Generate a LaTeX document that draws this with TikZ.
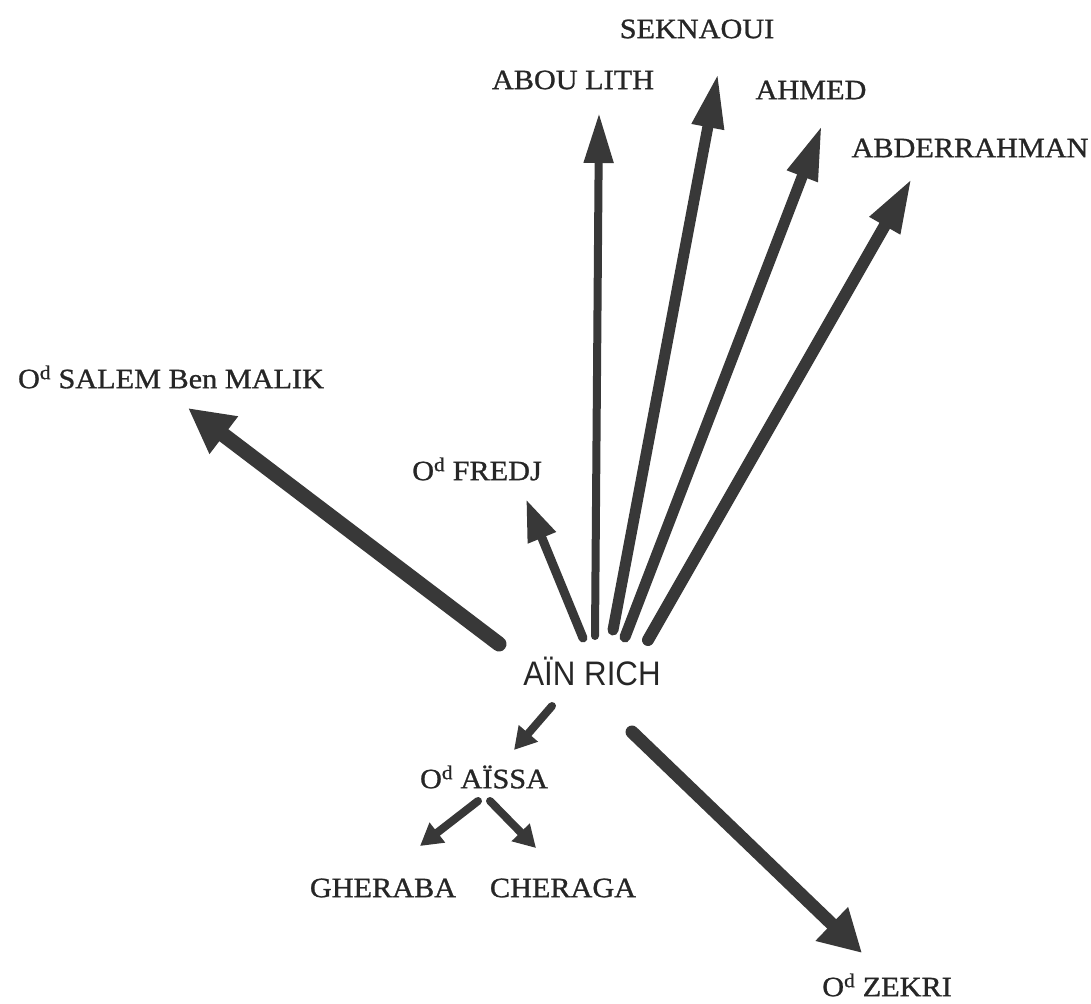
\documentclass[tikz,border=0pt]{standalone}
\usepackage{fontspec}
\setmainfont{Liberation Serif}[FakeStretch=1.08, FakeBold=1]
\newfontfamily\richfont{Liberation Sans}[FakeStretch=0.92]
\usetikzlibrary{arrows.meta}
\begin{document}
\begin{tikzpicture}[x=1pt,y=-1pt,
  lab/.style={inner sep=0pt, font=\fontsize{28}{32}\selectfont, text=black!85},
  arr/.style={draw=black!78, line width=10pt, line cap=round, -{Triangle[width=30pt,length=40pt]}},
  small/.style={draw=black!78, line width=8pt, line cap=round, -{Triangle[width=24pt,length=22pt]}}]
\useasboundingbox (0,0) rectangle (1091,1003);
% labels
\node[lab] (seknaoui) at (697,29) {SEKNAOUI};
\node[lab] (abou) at (573,80) {ABOU LITH};
\node[lab] (ahmed) at (811,90) {AHMED};
\node[lab] (abder) at (970,148) {ABDERRAHMAN};
\node[lab] (salem) at (171,377) {O\textsuperscript{d} SALEM Ben MALIK};
\node[lab] (fredj) at (477,469) {O\textsuperscript{d} FREDJ};
\node[inner sep=0pt, font=\richfont\fontsize{34}{38}\selectfont, text=black!85] (rich) at (592,671) {AÏN RICH};
\node[lab] (aissa) at (484,777) {O\textsuperscript{d} AÏSSA};
\node[lab] (gheraba) at (383,888) {GHERABA};
\node[lab] (cheraga) at (563,888) {CHERAGA};
\node[lab] (zekri) at (887,985) {O\textsuperscript{d} ZEKRI};
% arrow end points
\coordinate (tFredj) at (583,638);  \coordinate (hFredj) at (526,499);
\coordinate (tAbou) at (595,636);   \coordinate (hAbou) at (599,113);
\coordinate (tSek) at (613,630);    \coordinate (hSek) at (718,73);
\coordinate (tAhm) at (625,637);    \coordinate (hAhm) at (822,125);
\coordinate (tAbd) at (648,640);    \coordinate (hAbd) at (912,178);
\coordinate (tSal) at (499,644);    \coordinate (hSal) at (188,408);
\coordinate (tAis) at (552,706);    \coordinate (hAis) at (514,750);
\coordinate (tGhe) at (478,801);    \coordinate (hGhe) at (420,846);
\coordinate (tChe) at (490,801);    \coordinate (hChe) at (536,848);
\coordinate (tZek) at (632,732);    \coordinate (hZek) at (862,953);
% arrows
\draw[arr, line width=9pt, -{Triangle[width=28pt,length=42pt]}] (tFredj) -- (hFredj);
\draw[arr, line width=8pt, -{Triangle[width=28pt,length=50pt]}] (tAbou) -- (hAbou);
\draw[arr, line width=11pt, -{Triangle[width=30pt,length=55pt]}] (tSek) -- (hSek);
\draw[arr, line width=11pt, -{Triangle[width=30pt,length=55pt]}] (tAhm) -- (hAhm);
\draw[arr, line width=12pt, -{Triangle[width=32pt,length=55pt]}] (tAbd) -- (hAbd);
\draw[arr, line width=15pt, -{Triangle[width=44pt,length=45pt]}] (tSal) -- (hSal);
\draw[small] (tAis) -- (hAis);
\draw[small] (tGhe) -- (hGhe);
\draw[small] (tChe) -- (hChe);
\draw[arr, line width=13pt, -{Triangle[width=44pt,length=42pt]}] (tZek) -- (hZek);
\end{tikzpicture}
\end{document}
